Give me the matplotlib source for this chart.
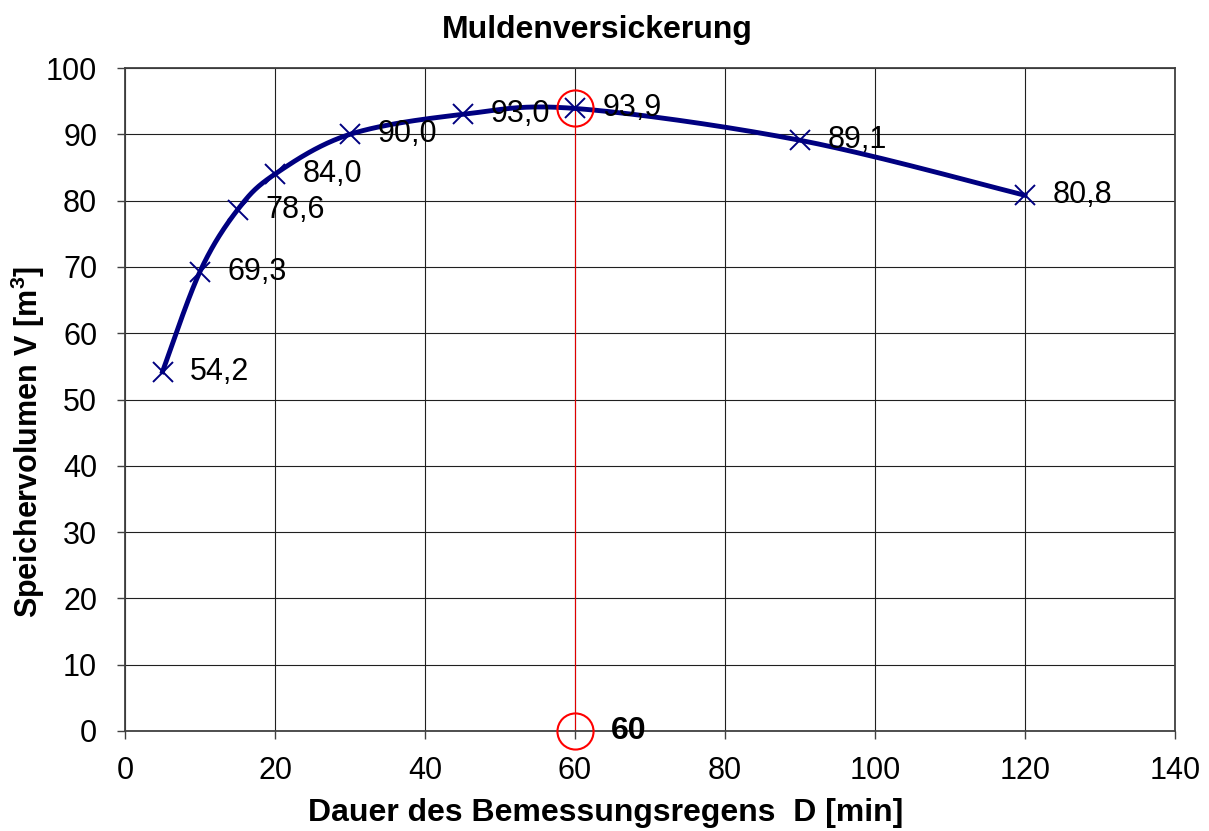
import numpy as np
import matplotlib
matplotlib.use("Agg")
import matplotlib.pyplot as plt

# Data
durations = [5, 10, 15, 20, 30, 45, 60, 90, 120]
volumes = [54.2, 69.3, 78.6, 84.0, 90.0, 93.0, 93.9, 89.1, 80.8]
labels = ["54,2", "69,3", "78,6", "84,0", "90,0", "93,0", "93,9", "89,1", "80,8"]
d_opt = 60
v_opt = 93.9
xticks = [0, 20, 40, 60, 80, 100, 120, 140]
yticks = [0, 10, 20, 30, 40, 50, 60, 70, 80, 90, 100]

plt.rcParams['font.family'] = ['Liberation Sans', 'DejaVu Sans']
plt.rcParams['mathtext.fontset'] = 'custom'
plt.rcParams['mathtext.rm'] = 'Liberation Sans'
plt.rcParams['mathtext.bf'] = 'Liberation Sans:bold'

def excel_smooth(x, y, n=40):
    x = np.asarray(x, float); y = np.asarray(y, float)
    px = np.concatenate([[x[0]], x, [x[-1]]])
    py = np.concatenate([[y[0]], y, [y[-1]]])
    xs, ys = [], []
    for i in range(1, len(px) - 2):
        p0 = np.array([px[i-1], py[i-1]]); p1 = np.array([px[i], py[i]])
        p2 = np.array([px[i+1], py[i+1]]); p3 = np.array([px[i+2], py[i+2]])
        c1 = p1 + (p2 - p0) / 6.0
        c2 = p2 - (p3 - p1) / 6.0
        t = np.linspace(0, 1, n)[:, None]
        b = (1-t)**3*p1 + 3*(1-t)**2*t*c1 + 3*(1-t)*t**2*c2 + t**3*p2
        xs.extend(b[:, 0]); ys.extend(b[:, 1])
    return np.array(xs), np.array(ys)

fig = plt.figure(figsize=(12.09, 8.31), dpi=100)
ax = fig.add_axes([125/1209, 1-731/831, 1050/1209, 663/831])

ax.set_xlim(0, 140)
ax.set_ylim(0, 100)
ax.set_xticks(xticks)
ax.set_yticks(yticks)
ax.grid(True, color='#202020', linewidth=0.8)
ax.set_axisbelow(True)
for s in ax.spines.values():
    s.set_color('#404040')
    s.set_linewidth(1.3)
ax.tick_params(axis='both', direction='out', length=6, width=1, color='#404040',
               labelsize=22)
ax.tick_params(axis='x', pad=12)
ax.tick_params(axis='y', pad=14)

sx, sy = excel_smooth(durations, volumes)
ax.plot(sx, sy, color='#000080', linewidth=3.5, zorder=3)
ax.plot(durations, volumes, linestyle='none', marker='x', markersize=14,
        markeredgewidth=1.4, color='#000080', zorder=4)

for xv, yv, lab in zip(durations, volumes, labels):
    ax.annotate(lab, (xv, yv), xytext=(20, 0), textcoords='offset points',
                fontsize=22, va='center', ha='left', zorder=5)

ax.plot([d_opt, d_opt], [0, v_opt], color='#e00000', linewidth=0.8, zorder=2)
ax.plot([d_opt, d_opt], [v_opt, 0], linestyle='none', marker='o', markersize=26,
        markerfacecolor='none', markeredgecolor='#ff0000', markeredgewidth=1.5,
        zorder=6, clip_on=False)
ax.annotate(str(d_opt), (d_opt, 0), xytext=(26, 0), textcoords='offset points',
            fontsize=23, fontweight='bold', va='center', ha='left', zorder=6,
            annotation_clip=False)

fig.text(597/1209, 1 - 30/831, "Muldenversickerung",
         fontsize=23, fontweight='bold', ha='center', va='center')
fig.text(606/1209, 1 - 813/831, "Dauer des Bemessungsregens  D [min]",
         fontsize=23, fontweight='bold', ha='center', va='center')
fig.text(28/1209, 1 - 442/831, r"Speichervolumen V [m$^{\mathbf{3}}$]",
         fontsize=22, fontweight='bold', ha='center', va='center', rotation=90)

fig.savefig("out.png", dpi=100)
